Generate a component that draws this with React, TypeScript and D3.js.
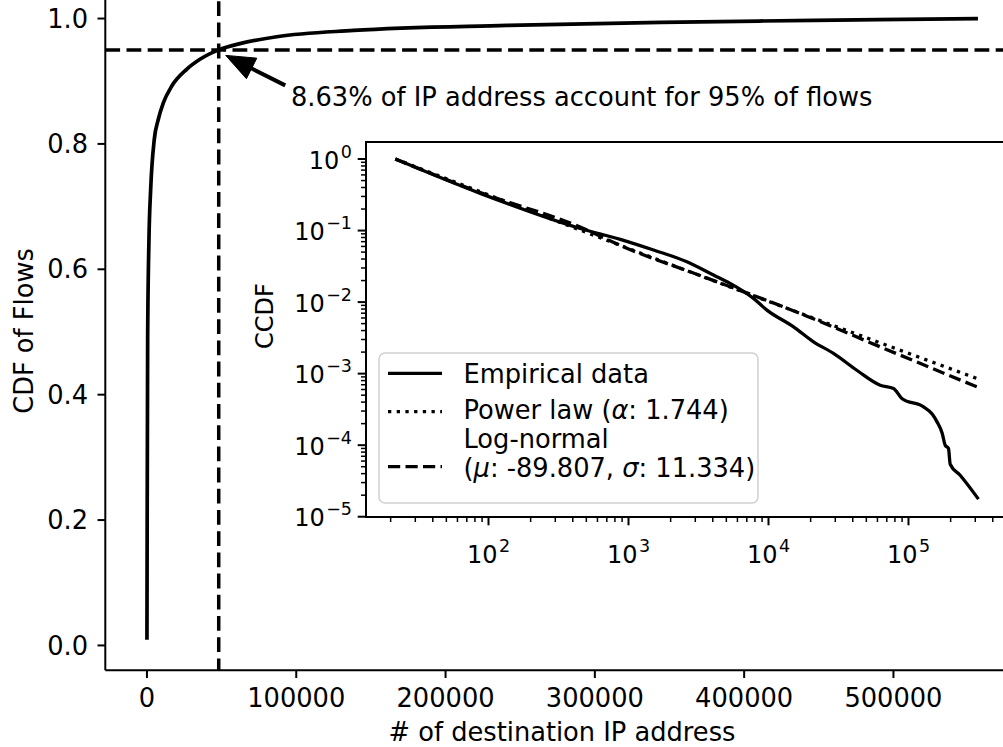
import React from 'react';
import * as d3 from 'd3';

// ---- Main CDF data (number of destination IPs vs cumulative share of flows) ----
const cdfIPs = [0, 150, 470, 1340, 2480, 4890, 7570, 10900, 16540, 26590, 35500, 48069, 62290, 86940, 138380, 241120, 344270, 446750, 556600];
const cdfFlows = [0.009, 0.2, 0.49, 0.647, 0.727, 0.807, 0.839, 0.865, 0.892, 0.919, 0.935, 0.95, 0.96, 0.971, 0.981, 0.989, 0.994, 0.997, 1.0];

const markerIPs = 48069;
const markerCDF = 0.95;
const annotationText = '8.63% of IP address account for 95% of flows';

const mainXTicks = [0, 100000, 200000, 300000, 400000, 500000];
const mainYTicks = [0.0, 0.2, 0.4, 0.6, 0.8, 1.0];

// ---- Inset CCDF data ----
const empX = [21.6, 87.3, 452, 873, 1510, 2612, 4046, 5321, 7812, 9750, 15100, 20960, 29120, 43750, 62800, 78200, 89700, 128000, 147600, 160300, 174100, 182900, 193100, 198600, 233900, 316200];
const empY = [1.0, 0.331, 0.107, 0.0753, 0.0534, 0.0366, 0.0239, 0.0183, 0.01127, 0.00773, 0.00451, 0.00279, 0.00192, 0.00108, 0.00069, 0.000621, 0.00045, 0.000343, 0.000272, 0.00021, 0.000147, 0.0001, 0.0000899, 0.0000542, 0.000038, 0.0000176];

const powX = [21.6, 8770, 316200];
const powY = [1.0, 0.01127, 0.00084];

const lognX = [21.6, 87.3, 452, 921, 3436, 16830, 62800, 308300];
const lognY = [1.0, 0.34, 0.112, 0.0593, 0.0226, 0.00695, 0.00237, 0.000653];

const insetXMajors = [2, 3, 4, 5];
const insetYMajors = [0, -1, -2, -3, -4, -5];

const legendLabels = ['Empirical data', 'Power law', 'Log-normal'];
const powerAlpha = '1.744';
const lognMu = '-89.807';
const lognSigma = '11.334';

const FONT = 'DejaVu Sans';
const FS = 25.7;
const FS_IN = 24;

export default function App() {
  const W = 1003, H = 747;
  const xMain = d3.scaleLinear().domain([-27900, 585900]).range([105.3, 1021.7]);
  const yMain = d3.scaleLinear().domain([-0.0395, 1.0495]).range([670.2, -12.5]);

  const xIn = d3.scaleLog().domain([Math.pow(10, 1.125), Math.pow(10, 5.708)]).range([366, 1007.6]);
  const yIn = d3.scaleLog().domain([Math.pow(10, -5.004), Math.pow(10, 0.238)]).range([517, 142]);

  const cdfLine = d3.line<number>()
    .x((_, i) => xMain(cdfIPs[i]))
    .y((d) => yMain(d))
    .curve(d3.curveMonotoneX);

  const logLine = (xs: number[]) => d3.line<number>()
    .x((_, i) => xIn(xs[i]))
    .y((d) => yIn(d))
    .curve(d3.curveMonotoneX);

  const mx = xMain(markerIPs);
  const my = yMain(markerCDF);

  // arrow geometry (from text towards the marked point)
  const tip = [mx + 7, my + 5.5];
  const tail = [mx + 66.5, my + 35.5];
  const dx = tip[0] - tail[0], dy = tip[1] - tail[1];
  const len = Math.hypot(dx, dy);
  const ux = dx / len, uy = dy / len;
  const headL = 29, headW = 11.5;
  const bx = tip[0] - ux * headL, by = tip[1] - uy * headL;
  const px = -uy, py = ux;
  const headPts = [
    [tip[0], tip[1]],
    [bx + px * headW, by + py * headW],
    [bx - px * headW, by - py * headW],
  ].map((p) => p.join(',')).join(' ');

  // inset minor ticks
  const xDom = xIn.domain();
  const yDom = yIn.domain();
  const xMinor: number[] = [];
  for (let k = 1; k <= 5; k++) for (let m = 2; m <= 9; m++) {
    const v = m * Math.pow(10, k);
    if (v >= xDom[0] && v <= xDom[1]) xMinor.push(v);
  }
  const yMinor: number[] = [];
  for (let k = -6; k <= 0; k++) for (let m = 2; m <= 9; m++) {
    const v = m * Math.pow(10, k);
    if (v >= yDom[0] && v <= yDom[1]) yMinor.push(v);
  }

  const insetLeft = 366, insetTop = 142, insetBottom = 517, insetRight = 1007.6;

  const lgX = 379, lgY = 353, lgW = 379, lgH = 150;
  const hx0 = 388, hx1 = 442, tx = 463.5;

  return (
    <svg width={W} height={H} style={{ position: 'absolute', left: 0, top: 0, background: '#fff' }} fontFamily={FONT}>
      <rect x={0} y={0} width={W} height={H} fill="#fff" />

      {/* reference lines */}
      <line x1={xMain.range()[0]} x2={W + 30} y1={my} y2={my} stroke="#000" strokeWidth={3.5} strokeDasharray="14.8,6.4" />
      <line x1={mx} x2={mx} y1={-20} y2={yMain.range()[0]} stroke="#000" strokeWidth={3.5} strokeDasharray="14.8,6.4" />

      {/* CDF curve */}
      <path d={cdfLine(cdfFlows) || ''} fill="none" stroke="#000" strokeWidth={3.7} strokeLinejoin="round" />

      {/* main spines */}
      <line x1={105.3} x2={105.3} y1={-20} y2={670.2} stroke="#000" strokeWidth={2} />
      <line x1={105.3} x2={W + 30} y1={670.2} y2={670.2} stroke="#000" strokeWidth={2} />

      {/* main ticks */}
      {mainXTicks.map((t) => (
        <g key={'mx' + t}>
          <line x1={xMain(t)} x2={xMain(t)} y1={670.2} y2={678} stroke="#000" strokeWidth={2} />
          <text x={xMain(t)} y={706.5} fontSize={FS} textAnchor="middle">{String(t)}</text>
        </g>
      ))}
      {mainYTicks.map((t) => (
        <g key={'my' + t}>
          <line x1={97.5} x2={105.3} y1={yMain(t)} y2={yMain(t)} stroke="#000" strokeWidth={2} />
          <text x={88} y={yMain(t) + 9.2} fontSize={FS} textAnchor="end">{t.toFixed(1)}</text>
        </g>
      ))}
      <text x={562} y={741} fontSize={FS} textAnchor="middle"># of destination IP address</text>
      <text transform={`translate(33,331) rotate(-90)`} fontSize={FS} textAnchor="middle">CDF of Flows</text>

      {/* annotation */}
      <line x1={tail[0]} y1={tail[1]} x2={bx + ux * 2} y2={by + uy * 2} stroke="#000" strokeWidth={4} />
      <polygon points={headPts} fill="#000" stroke="#000" strokeWidth={1} strokeLinejoin="miter" />
      <text x={291} y={106} fontSize={FS}>{annotationText}</text>

      {/* inset */}
      <rect x={insetLeft} y={insetTop} width={insetRight - insetLeft} height={insetBottom - insetTop} fill="#fff" />
      <path d={logLine(powX)(powY) || ''} fill="none" stroke="#000" strokeWidth={3.3} strokeDasharray="3.3,5.4" />
      <path d={logLine(lognX)(lognY) || ''} fill="none" stroke="#000" strokeWidth={3.3} strokeDasharray="12.2,5.3" />
      <path d={logLine(empX)(empY) || ''} fill="none" stroke="#000" strokeWidth={3.3} strokeLinejoin="round" />

      {/* inset spines */}
      <rect x={insetLeft} y={insetTop} width={insetRight - insetLeft} height={insetBottom - insetTop} fill="none" stroke="#000" strokeWidth={2} />

      {/* inset ticks */}
      {xMinor.map((v) => (
        <line key={'xm' + v} x1={xIn(v)} x2={xIn(v)} y1={insetBottom} y2={insetBottom + 5} stroke="#000" strokeWidth={1.5} />
      ))}
      {yMinor.map((v) => (
        <line key={'ym' + v} x1={insetLeft - 5} x2={insetLeft} y1={yIn(v)} y2={yIn(v)} stroke="#000" strokeWidth={1.5} />
      ))}
      {insetXMajors.map((k) => {
        const xv = xIn(Math.pow(10, k));
        return (
          <g key={'xM' + k}>
            <line x1={xv} x2={xv} y1={insetBottom} y2={insetBottom + 8.3} stroke="#000" strokeWidth={2} />
            <text x={xv} y={563} fontSize={FS_IN} textAnchor="middle">
              10<tspan dx={1.5} dy={-11} fontSize={17.5}>{String(k)}</tspan>
            </text>
          </g>
        );
      })}
      {insetYMajors.map((k) => {
        const yv = yIn(Math.pow(10, k));
        return (
          <g key={'yM' + k}>
            <line x1={insetLeft - 8.3} x2={insetLeft} y1={yv} y2={yv} stroke="#000" strokeWidth={2} />
            <text x={352} y={yv + 9.5} fontSize={FS_IN} textAnchor="end">
              10<tspan dx={1.5} dy={-11} fontSize={17.5}>{k === 0 ? '0' : '\u2212' + String(-k)}</tspan>
            </text>
          </g>
        );
      })}
      <text transform={`translate(273,316) rotate(-90)`} fontSize={FS_IN} textAnchor="middle">CCDF</text>

      {/* legend */}
      <rect x={lgX} y={lgY} width={lgW} height={lgH} rx={6} ry={6} fill="#fff" fillOpacity={0.8} stroke="#d0d0d0" strokeWidth={1.5} />
      <line x1={hx0} x2={hx1} y1={373.3} y2={373.3} stroke="#000" strokeWidth={3.3} />
      <text x={tx} y={383} fontSize={FS}>{legendLabels[0]}</text>
      <line x1={hx0} x2={hx1} y1={411.7} y2={411.7} stroke="#000" strokeWidth={3.3} strokeDasharray="3.3,5.4" />
      <text x={tx} y={419} fontSize={FS}>{legendLabels[1]} (<tspan fontStyle="italic">α</tspan>: {powerAlpha})</text>
      <line x1={hx0} x2={hx1} y1={466.7} y2={466.7} stroke="#000" strokeWidth={3.3} strokeDasharray="12.2,5.3" />
      <text x={tx} y={448.3} fontSize={FS}>{legendLabels[2]}</text>
      <text x={tx} y={477} fontSize={FS}>(<tspan fontStyle="italic">μ</tspan>: {lognMu}, <tspan fontStyle="italic">σ</tspan>: {lognSigma})</text>
    </svg>
  );
}
